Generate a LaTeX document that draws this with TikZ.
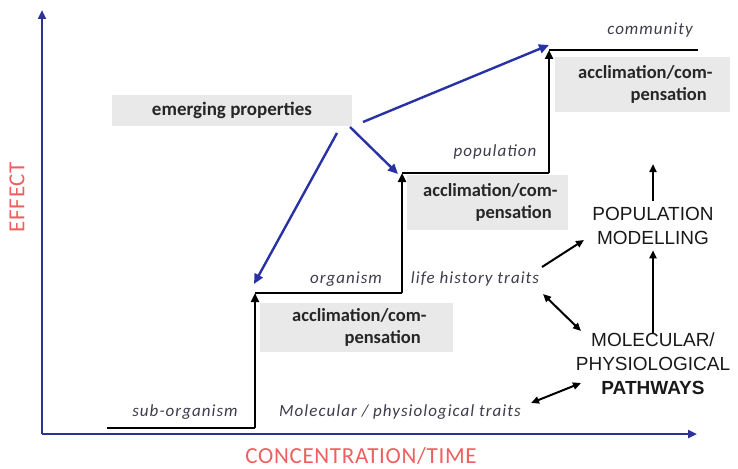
\documentclass[tikz,border=0pt]{standalone}
\usepackage{fontspec}
\setmainfont{Carlito}
\newfontfamily\arialfont{Liberation Sans}
\newfontfamily\lvlfont[LetterSpace=6]{Carlito}
\newfontfamily\axfont[LetterSpace=3]{Carlito}
\usetikzlibrary{arrows.meta}
\definecolor{axisblue}{RGB}{45,50,150}
\definecolor{arrblue}{RGB}{40,50,165}
\definecolor{boxgray}{RGB}{232,233,232}
\definecolor{lbl}{RGB}{60,60,75}
\definecolor{axred}{RGB}{240,95,95}
\begin{document}
\begin{tikzpicture}[x=1pt,y=-1pt,
  graybox/.style={fill=boxgray, inner sep=0pt, font=\bfseries\fontsize{18.5}{22}\selectfont, text=black!85, align=right},
  lvl/.style={font=\lvlfont\itshape\fontsize{17}{20}\selectfont, text=lbl},
  caps/.style={font=\arialfont\fontsize{19}{24}\selectfont, align=center, text=black!90},
  axlabel/.style={font=\axfont\fontsize{23}{26}\selectfont, text=axred},
  stair/.style={line width=2.6pt, black},
  stairup/.style={line width=2.6pt, black, -{Triangle[length=9pt,width=8pt]}},
  axis/.style={axisblue, line width=2.4pt, -{Triangle[length=9pt,width=8pt]}},
  bluearr/.style={arrblue, line width=2.4pt, -{Triangle[length=10pt,width=9pt]}},
  blk/.style={black, line width=2pt, -{Triangle[length=8pt,width=7pt]}},
  dblk/.style={black, line width=2pt, {Triangle[length=8pt,width=7pt]}-{Triangle[length=8pt,width=7pt]}},
]
\useasboundingbox (0,0) rectangle (738,468);

% axes
\coordinate (orig) at (42,434);
\coordinate (ytop) at (42,10);
\coordinate (xend) at (697,434);
\draw[axis] (orig) -- (ytop);
\draw[axis] (orig) -- (xend);
\node[axlabel, rotate=90] (effect) at (17,197) {EFFECT};
\node[axlabel] (conc) at (361,456) {CONCENTRATION/TIME};

% gray boxes
\node[graybox, minimum width=240pt, minimum height=31pt, font=\bfseries\fontsize{19}{22}\selectfont] (em) at (232,110.5) {emerging properties};
\node[graybox, minimum width=193pt, minimum height=49pt] (b1) at (356.5,327.5) {acclimation/com\rlap{-}\\pensation};
\node[graybox, minimum width=161pt, minimum height=55pt] (b2) at (487.5,202.5) {acclimation/com\rlap{-}\\pensation};
\node[graybox, minimum width=175pt, minimum height=55pt] (b3) at (642.5,84.5) {acclimation/com\rlap{-}\\pensation};

% staircase
\coordinate (s0) at (107,428);
\coordinate (s1) at (255,428);
\coordinate (s2) at (255,293);
\coordinate (s3) at (402,293);
\coordinate (s4) at (402,173);
\coordinate (s5) at (549,173);
\coordinate (s6) at (549,50);
\coordinate (s7) at (698,50);
\draw[stair] (s0) -- (s1);
\draw[stairup] (s1) -- (s2);
\draw[stair] (s2) -- (s3);
\draw[stairup] (s3) -- (s4);
\draw[stair] (s4) -- (s5);
\draw[stairup] (s5) -- (s6);
\draw[stair] (s6) -- (s7);

% level labels
\node[lvl] (comm) at (650,30) {community};
\node[lvl] (pop) at (495,152) {population};
\node[lvl] (org) at (346,279) {organism};
\node[lvl] (lht) at (475,279) {life history traits};
\node[lvl] (sub) at (185,412) {sub-organism};
\node[lvl] (mpt) at (400,412) {Molecular / physiological traits};

% blue arrows from emerging properties
\coordinate (e1) at (337,133);
\coordinate (e2) at (350,127);
\coordinate (e3) at (363,122);
\coordinate (t1) at (254,284);
\coordinate (t2) at (398,174);
\coordinate (t3) at (549,45);
\draw[bluearr] (e1) -- (t1);
\draw[bluearr] (e2) -- (t2);
\draw[bluearr] (e3) -- (t3);

% right side
\node[caps] (popm) at (653,226) {POPULATION\\MODELLING};
\node[caps] (mol) at (653,364) {MOLECULAR/\\PHYSIOLOGICAL\\\textbf{PATHWAYS}};
\coordinate (upend) at (653,164);
\draw[blk] (popm.north) ++(0,-3) -- (upend);
\draw[blk] ([yshift=-4pt]mol.north) -- ([yshift=-2pt]popm.south);

\coordinate (l1) at (542,267);
\coordinate (p1) at (584,240);
\draw[blk] (l1) -- (p1);
\coordinate (l2) at (543,294);
\coordinate (m2) at (581,331);
\draw[dblk] (l2) -- (m2);
\coordinate (l3) at (531,403);
\coordinate (m3) at (581,383);
\draw[dblk] (l3) -- (m3);
\end{tikzpicture}
\end{document}
